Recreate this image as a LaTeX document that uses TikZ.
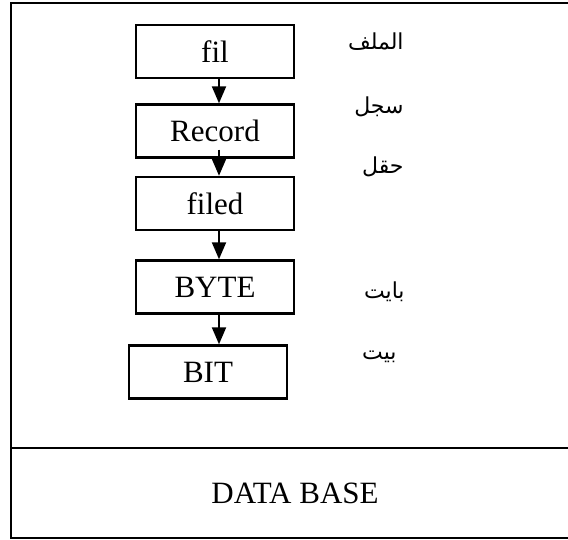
\documentclass[tikz,border=0pt]{standalone}
\usepackage{fontspec}
\setmainfont{Liberation Serif}
\newfontfamily\arabicfont[Script=Arabic]{DejaVu Sans}
\TeXXeTstate=1
\usetikzlibrary{arrows.meta}

\begin{document}
\begin{tikzpicture}[x=0.5pt,y=-0.5pt,
  unit/.style={draw,line width=1.2pt,minimum width=79pt,minimum height=26.5pt,inner sep=0pt,font=\fontsize{15.5}{18}\selectfont},
  arlabel/.style={anchor=east,inner sep=0pt,font=\arabicfont\fontsize{11}{14}\selectfont},
  down/.style={line width=1pt,-{Triangle[length=8.5pt,width=7pt]}}]
\useasboundingbox (0,0) rectangle (568,540);
\draw[line width=1pt] (11,3) rectangle (580,538);
\draw[line width=1pt] (11,448) -- (580,448);
\node[font=\fontsize{15.5}{18}\selectfont] (db) at (295,493) {DATA BASE};

\node[unit] (fil) at (215,51.5) {fil};
\node[unit] (rec) at (215,131) {Record};
\node[unit] (fld) at (215,203.5) {filed};
\node[unit] (byte) at (215,287) {BYTE};
\node[unit] (bit) at (208,372) {BIT};

\draw[down] ([xshift=2pt]fil.south) -- ([xshift=2pt]rec.north);
\draw[down] ([xshift=2pt,yshift=4.5pt]rec.south) -- ([xshift=2pt]fld.north);
\draw[down] ([xshift=2pt]fld.south) -- ([xshift=2pt]byte.north);
\draw[down] ([xshift=2pt]byte.south) -- ([xshift=2pt]byte.south |- bit.north);

\node[arlabel] (lfil) at (404,42) {\beginR الملف\endR};
\node[arlabel] (lrec) at (404,107) {\beginR سجل\endR};
\node[arlabel] (lfld) at (404,167) {\beginR حقل\endR};
\node[arlabel] (lbyte) at (405,292) {\beginR بايت\endR};
\node[arlabel] (lbit) at (397,357) {\beginR بيت\endR};
\end{tikzpicture}
\end{document}
